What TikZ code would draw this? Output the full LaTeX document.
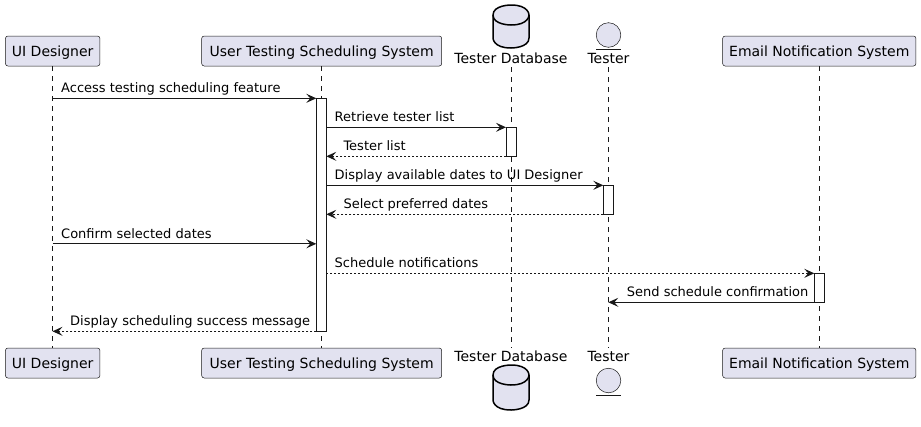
\documentclass[tikz,border=0pt]{standalone}
\usepackage{fontspec}
\setmainfont{DejaVu Sans}
\usetikzlibrary{arrows.meta}
\definecolor{pfill}{HTML}{E2E2F0}
\definecolor{pline}{HTML}{181818}
\begin{document}
\begin{tikzpicture}[x=1pt,y=-1pt,
  pbox/.style={draw=pline,line width=0.5pt,fill=pfill,rounded corners=2.5pt,
    minimum height=30pt,inner sep=0pt,text height=10.2pt,text depth=0pt,
    font=\fontsize{14}{16}\selectfont},
  plabel/.style={inner sep=0pt,anchor=base,font=\fontsize{14}{16}\selectfont},
  lifeline/.style={draw=pline,line width=0.5pt,dash pattern=on 5pt off 5pt},
  actbar/.style={draw=pline,line width=1pt,fill=white,minimum width=10pt,inner sep=0pt},
  msg/.style={draw=pline,line width=1pt,-{Stealth[length=10pt,width=9pt,inset=4pt]}},
  ret/.style={msg,dash pattern=on 2pt off 2pt},
  mlabel/.style={inner sep=0pt,anchor=base west,font=\fontsize{13}{15}\selectfont},
  dbshape/.style={draw=black,line width=1.5pt,fill=pfill},
  entcirc/.style={draw=pline,line width=0.5pt,fill=pfill}
]
\useasboundingbox (0,0) rectangle (921,426);

% participant boxes (top and bottom)
\node[pbox,minimum width=94.5pt] (uiT) at (52.7,51) {UI Designer};
\node[pbox,minimum width=240pt] (utT) at (321.7,51) {User Testing Scheduling System};
\node[pbox,minimum width=193.3pt] (emT) at (819.3,51) {Email Notification System};
\node[pbox,minimum width=94.5pt] (uiB) at (52.7,363) {UI Designer};
\node[pbox,minimum width=240pt] (utB) at (321.7,363) {User Testing Scheduling System};
\node[pbox,minimum width=193.3pt] (emB) at (819.3,363) {Email Notification System};

% database labels and shapes
\node[plabel] (dbT) at (511,63.5) {Tester Database};
\node[plabel] (dbB) at (511,361) {Tester Database};
\draw[dbshape] (493,15) .. controls (493,5) and (511,5) .. (511,5)
  .. controls (529,5) and (529,15) .. (529,15) -- (529,38)
  .. controls (529,48) and (511,48) .. (511,48)
  .. controls (493,48) and (493,38) .. (493,38) -- cycle;
\draw[draw=black,line width=1.5pt] (493,15) .. controls (493,25) and (511,25) .. (511,25)
  .. controls (529,25) and (529,15) .. (529,15);
\begin{scope}[yshift=-360pt]
\draw[dbshape] (493,15) .. controls (493,5) and (511,5) .. (511,5)
  .. controls (529,5) and (529,15) .. (529,15) -- (529,40)
  .. controls (529,50) and (511,50) .. (511,50)
  .. controls (493,50) and (493,40) .. (493,40) -- cycle;
\draw[draw=black,line width=1.5pt] (493,15) .. controls (493,25) and (511,25) .. (511,25)
  .. controls (529,25) and (529,15) .. (529,15);
\end{scope}

% entity labels and shapes
\node[plabel] (teT) at (608.5,63.5) {Tester};
\node[plabel] (teB) at (608.5,361) {Tester};
\draw[entcirc] (608.5,35) circle[radius=12.3pt];
\draw[draw=pline,line width=0.5pt] (596,49.3) -- (621,49.3);
\draw[entcirc] (608.5,380.5) circle[radius=12.3pt];
\draw[draw=pline,line width=0.5pt] (596,395) -- (621,395);

% lifelines
\coordinate (dbL1) at (511,67);
\coordinate (dbL2) at (511,348);
\coordinate (teL1) at (608.3,67);
\coordinate (teL2) at (608.3,348);
\draw[lifeline] (uiT.south) -- (uiB.north);
\draw[lifeline] ([xshift=-0.4pt]utT.south) -- ([xshift=-0.4pt]utB.north);
\draw[lifeline] (emT.south) -- (emB.north);
\draw[lifeline] (dbL1) -- (dbL2);
\draw[lifeline] (teL1) -- (teL2);

% activation bars
\node[actbar,minimum height=233pt] (aUT) at (321.3,214.8) {};
\node[actbar,minimum height=29pt] (aDB) at (511,141.8) {};
\node[actbar,minimum height=29pt] (aTE) at (608.3,199.8) {};
\node[actbar,minimum height=29pt] (aEM) at (819.3,287.8) {};

% message endpoints
\coordinate (m1s) at (52.5,98.3);   \coordinate (m1e) at (316.3,98.3);
\coordinate (m2s) at (326.3,127.3); \coordinate (m2e) at (506,127.3);
\coordinate (m3s) at (506,156.3);   \coordinate (m3e) at (326.3,156.3);
\coordinate (m4s) at (326.3,185.3); \coordinate (m4e) at (603.3,185.3);
\coordinate (m5s) at (603.3,214.3); \coordinate (m5e) at (326.3,214.3);
\coordinate (m6s) at (52.5,243.8);  \coordinate (m6e) at (316.3,243.8);
\coordinate (m7s) at (326.3,273.3); \coordinate (m7e) at (814.3,273.3);
\coordinate (m8s) at (814.3,302.3); \coordinate (m8e) at (608.3,302.3);
\coordinate (m9s) at (316.3,331.3); \coordinate (m9e) at (52.5,331.3);

\draw[msg] (m1s) -- (m1e);
\draw[msg] (m2s) -- (m2e);
\draw[ret] (m3s) -- (m3e);
\draw[msg] (m4s) -- (m4e);
\draw[ret] (m5s) -- (m5e);
\draw[msg] (m6s) -- (m6e);
\draw[ret] (m7s) -- (m7e);
\draw[msg] (m8s) -- (m8e);
\draw[ret] (m9s) -- (m9e);

% message labels
\node[mlabel] (t1) at (61,92.8) {Access testing scheduling feature};
\node[mlabel] (t2) at (334.5,121.8) {Retrieve tester list};
\node[mlabel] (t3) at (343.3,150.8) {Tester list};
\node[mlabel] (t4) at (334.5,179.8) {Display available dates to UI Designer};
\node[mlabel] (t5) at (343.3,208.8) {Select preferred dates};
\node[mlabel] (t6) at (61,238.3) {Confirm selected dates};
\node[mlabel] (t7) at (334.5,267.8) {Schedule notifications};
\node[mlabel] (t8) at (626.7,296.8) {Send schedule confirmation};
\node[mlabel] (t9) at (70,325.8) {Display scheduling success message};
\end{tikzpicture}
\end{document}
